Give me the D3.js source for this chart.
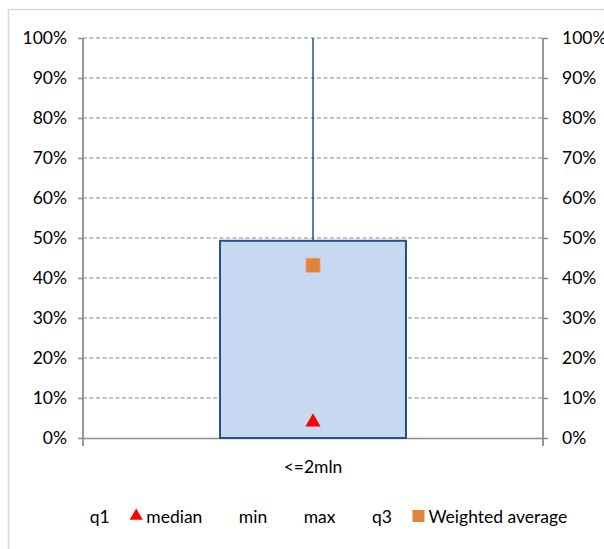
<!DOCTYPE html>
<html>
<head>
<meta charset="utf-8">
<script src="https://cdn.jsdelivr.net/npm/d3@7"></script>
<style>
  body { margin: 0; background: #fff; }
  text { font-family: Lato, "Open Sans", sans-serif; fill: #000; }
</style>
</head>
<body>
<svg id="chart" width="604" height="549"></svg>
<script>
// DATA
const categories = ["<=2mln"];
const q1 = [0];
const median = [4];
const minVal = [0];
const maxVal = [100];
const q3 = [49.3];
const weightedAvg = [43.2];
const yTicks = [0, 10, 20, 30, 40, 50, 60, 70, 80, 90, 100];
const legendItems = ["q1", "median", "min", "max", "q3", "Weighted average"];

// CANVAS SETUP
const svg = d3.select("#chart");
const margin = { top: 38, right: 61, bottom: 111, left: 83 },
  width = 604 - margin.left - margin.right,
  height = 549 - margin.top - margin.bottom;
const fs = 17.5;

// chart frame
svg.append("rect")
  .attr("x", 8.5).attr("y", 9.5)
  .attr("width", 620).attr("height", 560)
  .attr("fill", "#fff").attr("stroke", "#d9d9d9").attr("stroke-width", 1.5);

const g = svg.append("g").attr("transform", `translate(${margin.left},${margin.top})`);

const x = d3.scaleBand().domain(categories).range([0, width]).paddingInner(0).paddingOuter(0.737);
const y = d3.scaleLinear().domain([0, 100]).range([height, 0]);

// gridlines
g.append("g")
  .selectAll("line")
  .data(yTicks.filter((d) => d > 0))
  .join("line")
  .attr("x1", 0).attr("x2", width)
  .attr("y1", (d) => y(d)).attr("y2", (d) => y(d))
  .attr("stroke", "#888").attr("stroke-width", 1.2)
  .attr("stroke-dasharray", "4,2.5");

// y axes
const fmt = (d) => d + "%";
const yl = g.append("g").call(d3.axisLeft(y).tickValues(yTicks).tickFormat(fmt).tickSize(5).tickPadding(11));
const yr = g.append("g").attr("transform", `translate(${width},0)`)
  .call(d3.axisRight(y).tickValues(yTicks).tickFormat(fmt).tickSize(5).tickPadding(14));
[yl, yr].forEach((a) => {
  a.select(".domain").remove();
  a.selectAll("line").attr("stroke", "#8c8c8c").attr("stroke-width", 1.5);
  a.selectAll("text").attr("font-size", fs).attr("fill", "#000");
});

// vertical axis lines
[0, width].forEach((xx) =>
  g.append("line").attr("x1", xx).attr("x2", xx).attr("y1", 0).attr("y2", height + 8)
    .attr("stroke", "#8c8c8c").attr("stroke-width", 1.8));

// x axis
const xa = g.append("g").attr("transform", `translate(0,${height})`)
  .call(d3.axisBottom(x).tickSize(0).tickPadding(23));
xa.select(".domain").attr("stroke", "#8c8c8c").attr("stroke-width", 1.5);
xa.selectAll("text").attr("font-size", fs).attr("fill", "#000");

const data = categories.map((c, i) => ({
  c, q1: q1[i], median: median[i], min: minVal[i], max: maxVal[i], q3: q3[i], avg: weightedAvg[i],
}));
const cxOf = (d) => x(d.c) + x.bandwidth() / 2;

// whiskers
g.selectAll(".whisker").data(data).join("line")
  .attr("x1", cxOf).attr("x2", cxOf)
  .attr("y1", (d) => y(d.max)).attr("y2", (d) => y(d.q3))
  .attr("stroke", "#27508a").attr("stroke-width", 1.5);
g.selectAll(".whisker-low").data(data).join("line")
  .attr("x1", cxOf).attr("x2", cxOf)
  .attr("y1", (d) => y(d.q1)).attr("y2", (d) => y(d.min))
  .attr("stroke", "#27508a").attr("stroke-width", 1.5);

// box
g.selectAll(".box").data(data).join("rect")
  .attr("x", (d) => x(d.c)).attr("width", x.bandwidth())
  .attr("y", (d) => y(d.q3)).attr("height", (d) => y(d.q1) - y(d.q3))
  .attr("fill", "#c6d9f1").attr("stroke", "#27508a").attr("stroke-width", 2);

// median triangle
const tri = d3.symbol().type(d3.symbolTriangle).size(100);
g.selectAll(".med").data(data).join("path")
  .attr("d", tri)
  .attr("transform", (d) => `translate(${cxOf(d)},${y(d.median)})`)
  .attr("fill", "#ff0000");

// weighted average square
const sq = 14;
g.selectAll(".avg").data(data).join("rect")
  .attr("x", (d) => cxOf(d) - sq / 2)
  .attr("y", (d) => y(d.avg) - sq / 2)
  .attr("width", sq).attr("height", sq)
  .attr("fill", "#de843c").attr("stroke", "#e6a574").attr("stroke-width", 0.8);

// LEGEND
const leg = svg.append("g");
const ly = 517;
const gap = 20.5;
let cx = 0;
legendItems.forEach((name) => {
  const it = leg.append("g");
  if (name === "median") {
    it.append("path").attr("d", d3.symbol().type(d3.symbolTriangle).size(75)())
      .attr("transform", `translate(${cx + 6},${ly - 1})`).attr("fill", "#ff0000");
  } else if (name === "Weighted average") {
    it.append("rect").attr("x", cx).attr("y", ly - 7).attr("width", 12).attr("height", 12)
      .attr("fill", "#de843c");
  }
  const t = it.append("text").attr("x", cx + 16).attr("y", ly + 6)
    .attr("font-size", fs).text(name);
  cx += 16 + t.node().getComputedTextLength() + gap;
});
const total = cx - gap;
leg.attr("transform", `translate(${(74 + 567) / 2 - total / 2},0)`);
</script>
</body>
</html>
